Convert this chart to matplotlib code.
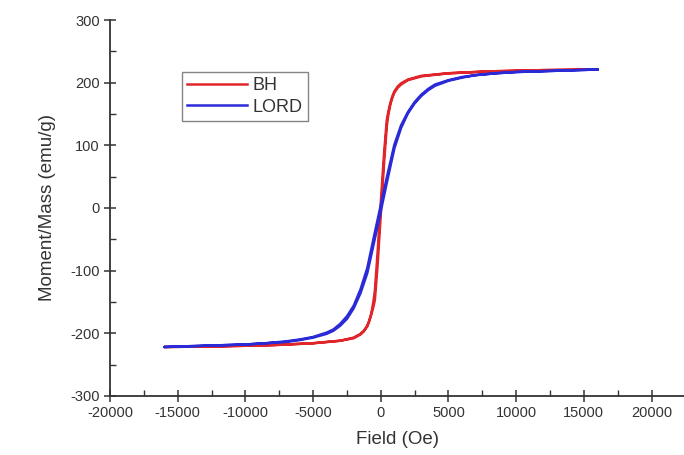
import matplotlib
matplotlib.use("Agg")
import matplotlib.pyplot as plt
from matplotlib.ticker import MultipleLocator

plt.rcParams["font.family"] = ["Liberation Sans", "DejaVu Sans"]
plt.rcParams["axes.unicode_minus"] = False

# BH loop, descending and ascending branches
h_bh_down = [16000, 12000, 8000, 5000, 3000, 2000, 1500, 1250, 1000, 850, 700, 550, 440, 250, 0,
             -250, -440, -550, -700, -850, -1000, -1250, -1500, -2000, -3000, -5000, -8000,
             -12000, -16000]
m_bh_down = [221, 220, 218, 215, 211, 205, 199, 194, 186, 178, 167, 153, 140, 90, 10,
             -75, -132, -150, -168, -180, -189, -197, -202, -208, -212, -216, -219,
             -221, -222]
h_bh_up = [-16000, -12000, -8000, -5000, -3000, -2000, -1500, -1250, -1000, -850, -700, -550,
           -440, -250, 0, 250, 440, 550, 700, 850, 1000, 1250, 1500, 2000, 3000, 5000, 8000,
           12000, 16000]
m_bh_up = [-222, -221, -219, -216, -212, -207, -201, -196, -188, -180, -170, -158,
           -147, -95, -10, 75, 130, 148, 165, 176, 184, 192, 197, 204, 210, 215, 218,
           220, 221]

# LORD loop
h_lord_down = [16000, 13000, 10000, 8500, 7000, 6000, 5000, 4000, 3500, 3000, 2500, 2000, 1500,
               1000, 500, 0, -500, -1000, -1500, -2000, -2500, -3000, -3500, -4000, -5000,
               -6000, -7000, -8500, -10000, -13000, -16000]
m_lord_down = [221, 219, 217, 215, 212, 209, 204, 197, 190, 181, 169, 153, 132,
               101, 54, 5, -45, -96, -130, -156, -173, -185, -194, -199, -206,
               -210, -213, -216, -218, -220, -222]
h_lord_up = [-16000, -13000, -10000, -8500, -7000, -6000, -5000, -4000, -3500, -3000, -2500,
             -2000, -1500, -1000, -500, 0, 500, 1000, 1500, 2000, 2500, 3000, 3500, 4000,
             5000, 6000, 7000, 8500, 10000, 13000, 16000]
m_lord_up = [-222, -220, -218, -216, -214, -211, -207, -201, -196, -188, -177,
             -160, -136, -104, -55, -5, 46, 95, 128, 151, 167, 179, 188, 195,
             203, 208, 212, 215, 217, 219, 221]

red = "#e0262b"
blue = "#2a2ad6"

fig = plt.figure(figsize=(6.84, 4.55), dpi=100)
ax = fig.add_axes([0.161, 0.130, 0.839, 0.826])

ax.plot(h_bh_down + h_bh_up, m_bh_down + m_bh_up, color=red, lw=1.8, label="BH")
ax.plot(h_lord_down + h_lord_up, m_lord_down + m_lord_up, color=blue, lw=1.8, label="LORD")

ax.set_xlim(-20000, 22400)
ax.set_ylim(-300, 300)
ax.xaxis.set_major_locator(MultipleLocator(5000))
ax.xaxis.set_minor_locator(MultipleLocator(2500))
ax.yaxis.set_major_locator(MultipleLocator(100))
ax.yaxis.set_minor_locator(MultipleLocator(50))
ax.set_xticks([-20000, -15000, -10000, -5000, 0, 5000, 10000, 15000, 20000])

for s in ["top", "right"]:
    ax.spines[s].set_visible(False)
for s in ["left", "bottom"]:
    ax.spines[s].set_linewidth(1.3)
    ax.spines[s].set_color("#333333")

ax.tick_params(which="major", direction="inout", length=8, width=1.1,
               labelsize=10.5, labelcolor="#333333", color="#333333")
ax.tick_params(which="minor", direction="in", length=4, width=1.0, color="#333333")

ax.set_xlabel("Field (Oe)", fontsize=13.5, color="#333333", labelpad=8)
ax.set_ylabel("Moment/Mass (emu/g)", fontsize=13.5, color="#333333", labelpad=10)

leg = ax.legend(loc="upper left", bbox_to_anchor=(0.125, 0.862), fontsize=13,
                frameon=True, fancybox=False, handlelength=3.3, handletextpad=0.3,
                borderpad=0.3, labelspacing=0.25, borderaxespad=0)
leg.get_frame().set_edgecolor("#666666")
leg.get_frame().set_linewidth(1.0)
for t in leg.get_texts():
    t.set_color("#333333")

fig.savefig("out.png", dpi=100)
